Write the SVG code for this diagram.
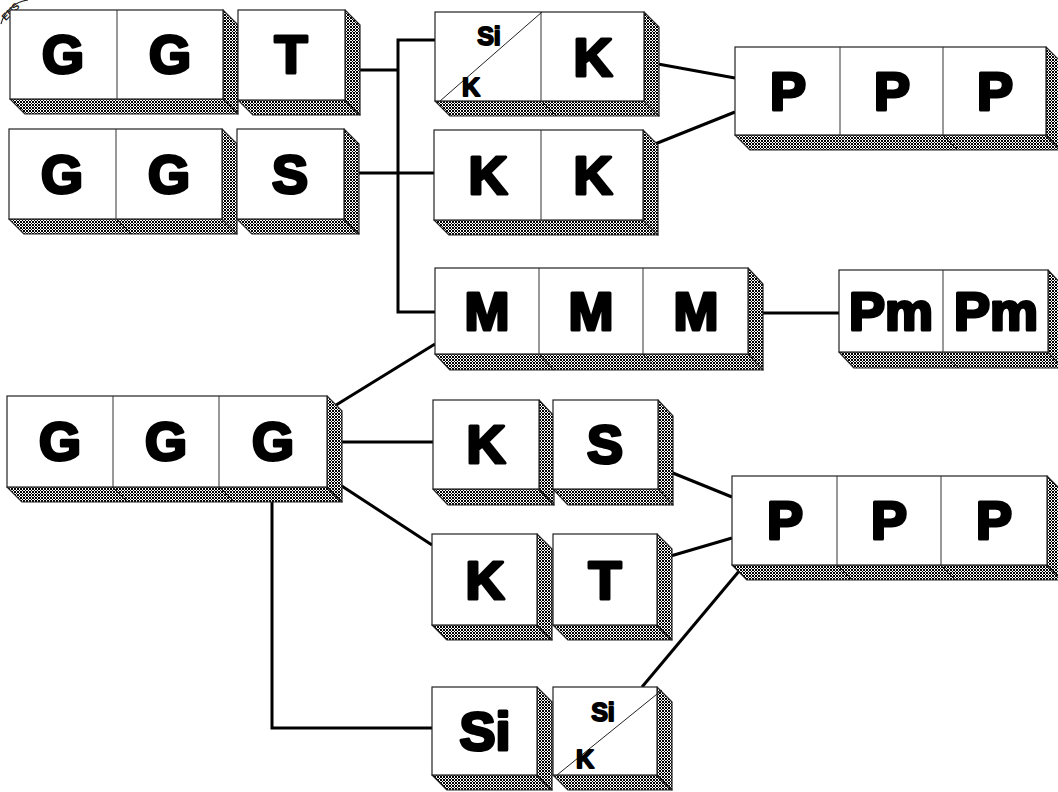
<svg xmlns="http://www.w3.org/2000/svg" width="1058" height="792" viewBox="0 0 1058 792">
<defs>
<pattern id="dither" width="3" height="3" patternUnits="userSpaceOnUse">
<rect width="3" height="3" fill="#ffffff"/>
<rect x="0" y="0" width="1" height="1" fill="#000"/>
<rect x="1" y="1" width="1" height="1" fill="#000"/>
<rect x="2" y="2" width="1" height="1" fill="#000"/>
<rect x="2" y="0" width="1" height="1" fill="#000"/>
<rect x="0" y="2" width="1" height="1" fill="#000"/>
</pattern>
<style>
.face{fill:#fff;stroke:#222;stroke-width:1.2}
.shade{fill:url(#dither);stroke:#222;stroke-width:1.2;stroke-linejoin:round}
.div{stroke:#333;stroke-width:1;fill:none}
.big{font-family:"Liberation Sans",Arial,sans-serif;font-weight:bold;font-size:54px;fill:#000;stroke:#000;stroke-width:3.2;stroke-linejoin:round;text-anchor:middle}
.small{font-family:"Liberation Sans",Arial,sans-serif;font-weight:bold;font-size:25px;fill:#000;stroke:#000;stroke-width:1.8;stroke-linejoin:round;text-anchor:middle}
.con{stroke:#000;stroke-width:3;fill:none;stroke-linejoin:miter}
.diag{stroke:#222;stroke-width:1;fill:none}
</style>
</defs>
<rect width="1058" height="792" fill="#fff"/>

<g id="stamp">
<path d="M1 24 A32 32 0 0 1 28 0" fill="none" stroke="#222" stroke-width="1.2"/>
<text x="13" y="14" transform="rotate(-45 13 14)" font-family="Liberation Sans, sans-serif" font-weight="bold" font-size="10" fill="#222" text-anchor="middle">ENS</text>
</g>

<g id="connectors">
<polyline class="con" points="345,70 398,70"/>
<polyline class="con" points="435,40 398,40 398,312 435,312"/>
<polyline class="con" points="344,173 434,173"/>
<polyline class="con" points="647,62 735,78"/>
<polyline class="con" points="645,148 735,112"/>
<polyline class="con" points="748,313 839,313"/>
<polyline class="con" points="328,410 435,344"/>
<polyline class="con" points="327,442 433,442"/>
<polyline class="con" points="328,477 432,545"/>
<polyline class="con" points="272,487 272,728 432,728"/>
<polyline class="con" points="658,467 732,497"/>
<polyline class="con" points="657,560 732,538"/>
<polyline class="con" points="642,687 740,570"/>
</g>

<g id="box-GG1">
<polygon class="shade" points="10,99 223,99 238,114 25,114"/>
<polygon class="shade" points="223,10 238,25 238,114 223,99"/>
<rect class="face" x="10" y="10" width="213" height="89"/>
<line class="div" x1="117" y1="10" x2="117" y2="99"/><line class="div" x1="117" y1="99" x2="132" y2="114"/>
<text class="big" x="63" y="73">G</text><text class="big" x="170" y="73">G</text>
</g>
<g id="box-T1">
<polygon class="shade" points="238,100 345,100 360,115 253,115"/>
<polygon class="shade" points="345,10 360,25 360,115 345,100"/>
<rect class="face" x="238" y="10" width="107" height="90"/>
<text class="big" x="291" y="73">T</text>
</g>
<g id="box-GG2">
<polygon class="shade" points="9,219 222,219 237,234 24,234"/>
<polygon class="shade" points="222,129 237,144 237,234 222,219"/>
<rect class="face" x="9" y="129" width="213" height="90"/>
<line class="div" x1="116" y1="129" x2="116" y2="219"/><line class="div" x1="116" y1="219" x2="131" y2="234"/>
<text class="big" x="62" y="193">G</text><text class="big" x="169" y="193">G</text>
</g>
<g id="box-S1">
<polygon class="shade" points="237,219 344,219 359,234 252,234"/>
<polygon class="shade" points="344,129 359,144 359,234 344,219"/>
<rect class="face" x="237" y="129" width="107" height="90"/>
<text class="big" x="290" y="193">S</text>
</g>
<g id="box-SiK-K">
<polygon class="shade" points="435,101 644,101 659,116 450,116"/>
<polygon class="shade" points="644,12 659,27 659,116 644,101"/>
<rect class="face" x="435" y="12" width="209" height="89"/>
<line class="div" x1="541" y1="12" x2="541" y2="101"/><line class="div" x1="541" y1="101" x2="556" y2="116"/>
<line class="diag" x1="440" y1="101" x2="542" y2="12"/>
<text class="small" x="489" y="45">Si</text><text class="small" x="471" y="96">K</text>
<text class="big" x="593" y="76">K</text>
</g>
<g id="box-KK">
<polygon class="shade" points="434,220 643,220 658,235 449,235"/>
<polygon class="shade" points="643,130 658,145 658,235 643,220"/>
<rect class="face" x="434" y="130" width="209" height="90"/>
<line class="div" x1="541" y1="130" x2="541" y2="220"/><line class="div" x1="541" y1="220" x2="556" y2="235"/>
<text class="big" x="488" y="194">K</text><text class="big" x="593" y="194">K</text>
</g>
<g id="box-PPP1">
<polygon class="shade" points="735,135 1046,135 1061,150 750,150"/>
<polygon class="shade" points="1046,47 1061,62 1061,150 1046,135"/>
<rect class="face" x="735" y="47" width="311" height="88"/>
<line class="div" x1="840" y1="47" x2="840" y2="135"/><line class="div" x1="840" y1="135" x2="855" y2="150"/>
<line class="div" x1="943" y1="47" x2="943" y2="135"/><line class="div" x1="943" y1="135" x2="958" y2="150"/>
<text class="big" x="788" y="110">P</text><text class="big" x="892" y="110">P</text><text class="big" x="995" y="110">P</text>
</g>
<g id="box-MMM">
<polygon class="shade" points="435,354 748,354 763,370 450,370"/>
<polygon class="shade" points="748,268 763,284 763,370 748,354"/>
<rect class="face" x="435" y="268" width="313" height="86"/>
<line class="div" x1="539" y1="268" x2="539" y2="354"/><line class="div" x1="539" y1="354" x2="554" y2="370"/>
<line class="div" x1="643" y1="268" x2="643" y2="354"/><line class="div" x1="643" y1="354" x2="658" y2="370"/>
<text class="big" x="487" y="330">M</text><text class="big" x="591" y="330">M</text><text class="big" x="696" y="330">M</text>
</g>
<g id="box-PmPm">
<polygon class="shade" points="839,352 1048,352 1063,368 854,368"/>
<polygon class="shade" points="1048,270 1063,286 1063,368 1048,352"/>
<rect class="face" x="839" y="270" width="209" height="82"/>
<line class="div" x1="943" y1="270" x2="943" y2="352"/><line class="div" x1="943" y1="352" x2="958" y2="368"/>
<text class="big" x="891" y="330">Pm</text><text class="big" x="996" y="330">Pm</text>
</g>
<g id="box-GGG">
<polygon class="shade" points="7,487 327,487 342,502 22,502"/>
<polygon class="shade" points="327,396 342,411 342,502 327,487"/>
<rect class="face" x="7" y="396" width="320" height="91"/>
<line class="div" x1="113" y1="396" x2="113" y2="487"/><line class="div" x1="113" y1="487" x2="128" y2="502"/>
<line class="div" x1="219" y1="396" x2="219" y2="487"/><line class="div" x1="219" y1="487" x2="234" y2="502"/>
<text class="big" x="60" y="460">G</text><text class="big" x="166" y="460">G</text><text class="big" x="273" y="460">G</text>
</g>
<g id="box-K2">
<polygon class="shade" points="433,489 539,489 554,505 448,505"/>
<polygon class="shade" points="539,400 554,416 554,505 539,489"/>
<rect class="face" x="433" y="400" width="106" height="89"/>
<text class="big" x="486" y="463">K</text>
</g>
<g id="box-S2">
<polygon class="shade" points="553,489 658,489 673,505 568,505"/>
<polygon class="shade" points="658,400 673,416 673,505 658,489"/>
<rect class="face" x="553" y="400" width="105" height="89"/>
<text class="big" x="605" y="463">S</text>
</g>
<g id="box-PPP2">
<polygon class="shade" points="732,565 1047,565 1062,580 747,580"/>
<polygon class="shade" points="1047,476 1062,491 1062,580 1047,565"/>
<rect class="face" x="732" y="476" width="315" height="89"/>
<line class="div" x1="837" y1="476" x2="837" y2="565"/><line class="div" x1="837" y1="565" x2="852" y2="580"/>
<line class="div" x1="941" y1="476" x2="941" y2="565"/><line class="div" x1="941" y1="565" x2="956" y2="580"/>
<text class="big" x="785" y="539">P</text><text class="big" x="889" y="539">P</text><text class="big" x="994" y="539">P</text>
</g>
<g id="box-K3">
<polygon class="shade" points="432,625 537,625 552,640 447,640"/>
<polygon class="shade" points="537,534 552,549 552,640 537,625"/>
<rect class="face" x="432" y="534" width="105" height="91"/>
<text class="big" x="485" y="599">K</text>
</g>
<g id="box-T2">
<polygon class="shade" points="553,625 657,625 672,640 568,640"/>
<polygon class="shade" points="657,534 672,549 672,640 657,625"/>
<rect class="face" x="553" y="534" width="104" height="91"/>
<text class="big" x="605" y="599">T</text>
</g>
<g id="box-Si">
<polygon class="shade" points="432,775 537,775 552,790 447,790"/>
<polygon class="shade" points="537,687 552,702 552,790 537,775"/>
<rect class="face" x="432" y="687" width="105" height="88"/>
<text class="big" x="485" y="750">Si</text>
</g>
<g id="box-SiK2">
<polygon class="shade" points="553,775 657,775 672,790 568,790"/>
<polygon class="shade" points="657,687 672,702 672,790 657,775"/>
<rect class="face" x="553" y="687" width="104" height="88"/>
<line class="diag" x1="557" y1="775" x2="662" y2="690"/>
<text class="small" x="603" y="721">Si</text><text class="small" x="585" y="768">K</text>
</g>
</svg>
